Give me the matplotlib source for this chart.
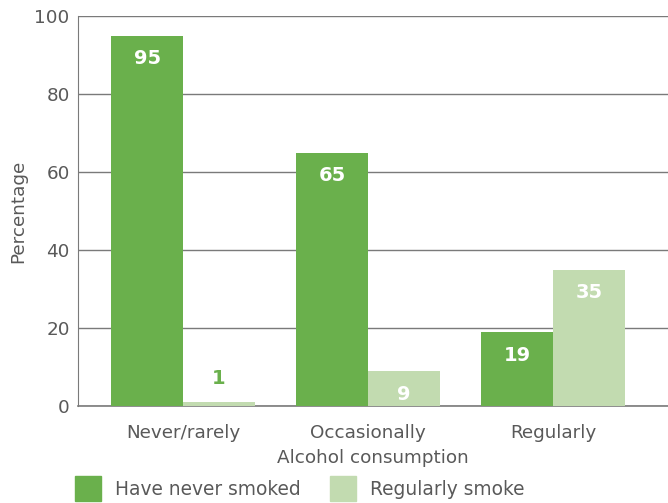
import numpy as np
import matplotlib.pyplot as plt
from matplotlib.patches import Patch

categories = ["Never/rarely", "Occasionally", "Regularly"]
never_smoked = [95, 65, 19]
regular_smoke = [1, 9, 35]
series_names = ["Have never smoked", "Regularly smoke"]

dark_green = "#6ab04c"
light_green = "#c2dbb0"
text_gray = "#595959"

fig = plt.figure(figsize=(6.68, 5.03), dpi=100)
ax = fig.add_axes([78/668, 1-406/503, 590/668, 390/503])

x = np.arange(len(categories))
w = 0.389
b1 = ax.bar(x - w/2, never_smoked, w, color=dark_green, zorder=3)
b2 = ax.bar(x + w/2, regular_smoke, w, color=light_green, zorder=3)

for bars in (b1, b2):
    for rect in bars:
        h = rect.get_height()
        cx = rect.get_x() + rect.get_width()/2
        if h > 8:
            ax.text(cx, h - 6, f"{h:g}", ha="center", va="center",
                    color="white", fontsize=14, fontweight="bold", zorder=4)
        else:
            ax.text(cx, h + 6, f"{h:g}", ha="center", va="center",
                    color=dark_green, fontsize=14, fontweight="bold", zorder=4)

ax.set_xlim(-0.568, 2.622)
ax.set_ylim(0, 100)
ax.set_yticks([0, 20, 40, 60, 80, 100])
ax.set_xticks(x)
ax.set_xticklabels(categories)
ax.tick_params(axis="both", length=0, labelsize=13.2, colors=text_gray, pad=6)
ax.tick_params(axis="x", pad=13)

ax.grid(axis="y", color="#7a7a7a", linewidth=1, zorder=0)
ax.axhline(0, color="#7a7a7a", linewidth=1.2, clip_on=False, zorder=1)
ax.set_axisbelow(True)
for s in ["top", "right", "bottom"]:
    ax.spines[s].set_visible(False)
ax.spines["left"].set_color("#7a7a7a")

ax.set_ylabel("Percentage", fontsize=13.2, color=text_gray, labelpad=5)
ax.set_xlabel("Alcohol consumption", fontsize=13.2, color=text_gray, labelpad=5)

handles = [Patch(color=dark_green), Patch(color=light_green)]
fig.legend(handles, series_names, loc="lower left", bbox_to_anchor=(0.087, -0.03),
           ncol=2, frameon=False, fontsize=13.4, labelcolor=text_gray,
           handlelength=1.42, handleheight=1.7, handletextpad=0.75, columnspacing=1.55)

fig.savefig("out.png", dpi=100)
